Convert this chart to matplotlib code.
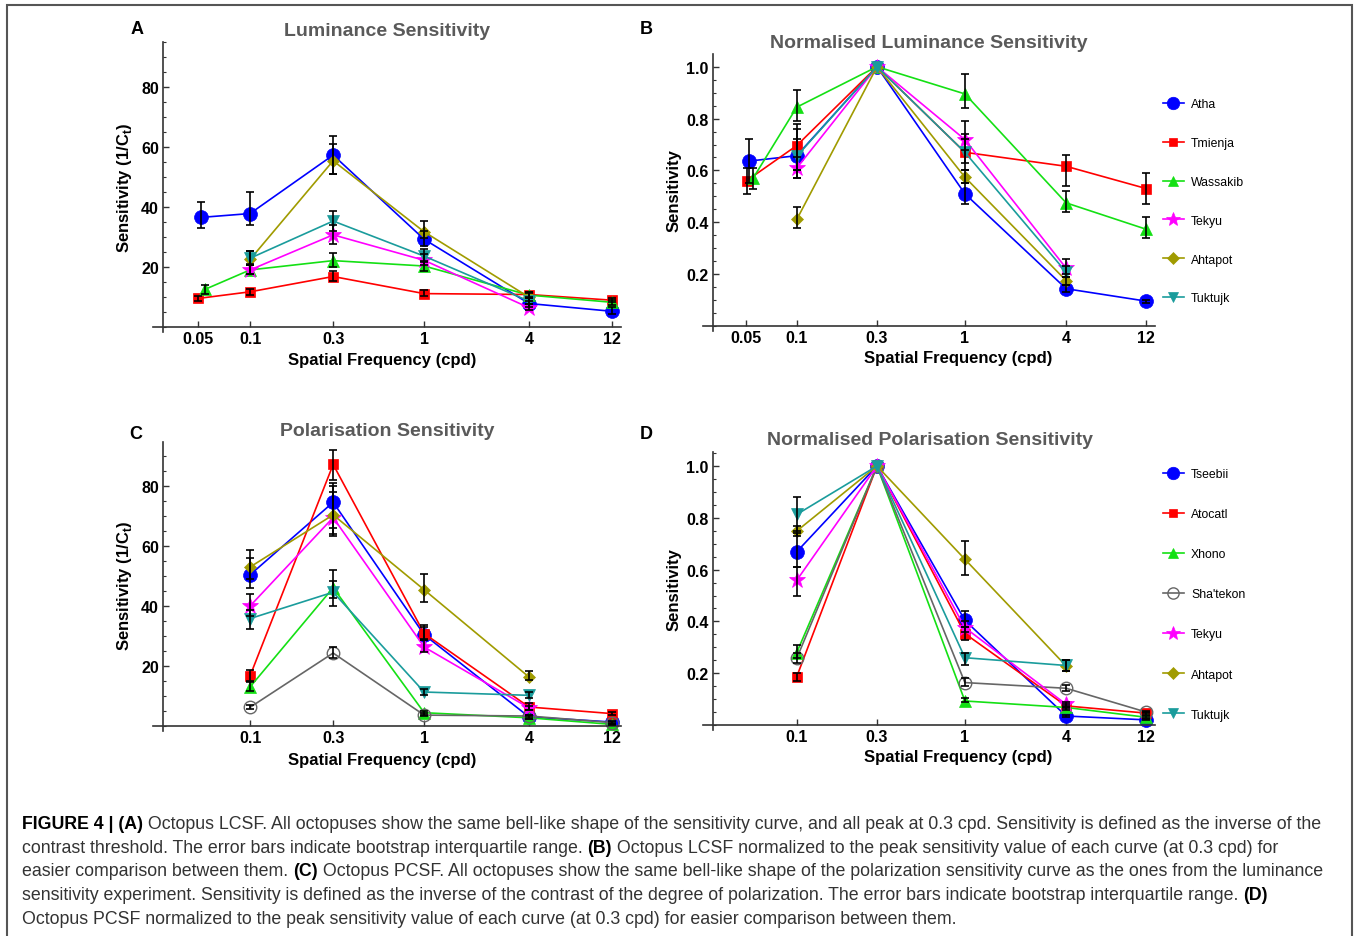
import matplotlib
matplotlib.use("Agg")
import matplotlib.pyplot as plt
from matplotlib.lines import Line2D
from matplotlib.patches import Rectangle
from matplotlib.ticker import MultipleLocator, NullLocator

plt.rcParams["font.family"] = ["Liberation Sans", "DejaVu Sans"]
plt.rcParams["mathtext.fontset"] = "custom"
plt.rcParams["mathtext.rm"] = "Liberation Sans"
plt.rcParams["mathtext.bf"] = "Liberation Sans:bold"

# ---- panel A: luminance sensitivity (1/Ct) ----
a_names = ["Atha", "Tmienja", "Wassakib", "Tekyu", "Ahtapot", "Tuktujk"]
a_freq = [[0.052, 0.1, 0.3, 1, 4, 12],
          [0.0505, 0.1, 0.3, 1, 4, 12],
          [0.055, 0.1, 0.3, 1, 4, 12],
          [0.1, 0.3, 1, 4],
          [0.1, 0.3, 1, 4],
          [0.1, 0.3, 1, 4]]
a_val = [[36.5, 37.8, 57.3, 29.2, 7.8, 5.2],
         [9.5, 11.7, 16.8, 11.1, 10.8, 8.9],
         [12.5, 19.0, 22.1, 20.3, 10.6, 8.2],
         [19.0, 30.7, 22.2, 6.4],
         [22.5, 55.4, 31.7, 9.9],
         [22.9, 35.3, 23.6, 8.6]]
a_lo = [[32.9, 34.0, 51.0, 27.0, 6.5, 4.3],
        [8.8, 10.8, 15.3, 10.2, 9.8, 8.2],
        [11.0, 17.5, 20.0, 18.8, 9.6, 7.3],
        [17.8, 27.5, 20.5, 5.5],
        [21.0, 51.0, 29.5, 8.8],
        [20.5, 32.0, 21.5, 7.5]]
a_hi = [[41.5, 45.0, 63.8, 32.0, 9.5, 6.5],
        [10.3, 12.8, 18.5, 12.3, 11.8, 9.8],
        [14.0, 20.5, 24.5, 22.0, 11.6, 9.0],
        [20.5, 34.0, 24.2, 7.5],
        [25.3, 61.0, 35.3, 11.2],
        [25.3, 38.8, 26.0, 10.0]]

# ---- panel B: normalised luminance sensitivity ----
b_val = [[0.636, 0.657, 1.0, 0.51, 0.144, 0.096],
         [0.561, 0.696, 1.0, 0.67, 0.616, 0.53],
         [0.57, 0.844, 1.0, 0.895, 0.475, 0.373],
         [0.609, 1.0, 0.719, 0.223],
         [0.411, 1.0, 0.574, 0.175],
         [0.655, 1.0, 0.67, 0.208]]
b_lo = [[0.55, 0.57, 1.0, 0.47, 0.13, 0.09],
        [0.51, 0.60, 1.0, 0.60, 0.54, 0.47],
        [0.53, 0.79, 1.0, 0.84, 0.44, 0.34],
        [0.57, 1.0, 0.68, 0.20],
        [0.38, 1.0, 0.55, 0.16],
        [0.60, 1.0, 0.63, 0.19]]
b_hi = [[0.72, 0.76, 1.0, 0.55, 0.16, 0.10],
        [0.61, 0.78, 1.0, 0.74, 0.66, 0.59],
        [0.61, 0.91, 1.0, 0.97, 0.52, 0.42],
        [0.65, 1.0, 0.79, 0.26],
        [0.46, 1.0, 0.60, 0.19],
        [0.72, 1.0, 0.72, 0.23]]

# ---- panel C: polarisation sensitivity (1/Ct) ----
c_names = ["Tseebii", "Atocatl", "Xhono", "Sha'tekon", "Tekyu", "Ahtapot", "Tuktujk"]
c_freq = [[0.1, 0.3, 1, 4, 12],
          [0.1, 0.3, 1, 4, 12],
          [0.1, 0.3, 1, 4, 12],
          [0.1, 0.3, 1, 4, 12],
          [0.1, 0.3, 1, 4],
          [0.1, 0.3, 1, 4],
          [0.1, 0.3, 1, 4]]
c_val = [[50.4, 74.6, 30.4, 3.0, 1.3],
         [16.7, 87.2, 30.8, 6.3, 4.1],
         [13.0, 46.1, 4.4, 2.7, 0.5],
         [6.2, 24.3, 3.6, 3.3, 1.1],
         [40.0, 69.5, 26.3, 6.0],
         [53.0, 70.4, 45.4, 16.3],
         [35.8, 44.6, 11.3, 10.2]]
c_lo = [[46.0, 64.0, 28.5, 2.3, 0.8],
        [15.0, 82.0, 29.0, 5.3, 3.5],
        [11.5, 42.5, 3.8, 2.2, 0.3],
        [5.5, 22.5, 3.2, 2.8, 0.8],
        [36.5, 63.5, 24.8, 5.2],
        [49.0, 66.0, 41.2, 15.2],
        [32.3, 40.0, 10.2, 9.2]]
c_hi = [[56.0, 80.0, 33.0, 3.8, 1.8],
        [18.5, 92.0, 33.5, 7.5, 4.7],
        [14.5, 52.0, 5.0, 3.2, 0.8],
        [7.0, 26.3, 4.2, 3.8, 1.4],
        [44.0, 78.0, 28.5, 6.8],
        [58.8, 81.0, 50.8, 18.2],
        [38.5, 48.5, 12.4, 11.4]]

# ---- panel D: normalised polarisation sensitivity ----
d_val = [[0.669, 1.0, 0.404, 0.035, 0.02],
         [0.187, 1.0, 0.353, 0.074, 0.046],
         [0.28, 1.0, 0.093, 0.068, 0.03],
         [0.258, 1.0, 0.164, 0.142, 0.05],
         [0.559, 1.0, 0.376, 0.08],
         [0.749, 1.0, 0.64, 0.228],
         [0.813, 1.0, 0.26, 0.23]]
d_lo = [[0.61, 1.0, 0.38, 0.03, 0.018],
        [0.17, 1.0, 0.33, 0.065, 0.04],
        [0.26, 1.0, 0.088, 0.06, 0.026],
        [0.24, 1.0, 0.15, 0.13, 0.045],
        [0.50, 1.0, 0.36, 0.07],
        [0.73, 1.0, 0.58, 0.21],
        [0.75, 1.0, 0.23, 0.21]]
d_hi = [[0.74, 1.0, 0.44, 0.04, 0.022],
        [0.20, 1.0, 0.38, 0.083, 0.052],
        [0.31, 1.0, 0.105, 0.075, 0.034],
        [0.28, 1.0, 0.18, 0.155, 0.055],
        [0.61, 1.0, 0.40, 0.09],
        [0.77, 1.0, 0.71, 0.25],
        [0.88, 1.0, 0.28, 0.25]]

lum_ticks = [0.05, 0.1, 0.3, 1, 4, 12]
pol_ticks = [0.1, 0.3, 1, 4, 12]

# marker, colour, size
STYLE = {
    "Atha": ("o", "#0000ff", 10),
    "Tseebii": ("o", "#0000ff", 10),
    "Tmienja": ("s", "#ff0000", 6.5),
    "Atocatl": ("s", "#ff0000", 6.5),
    "Wassakib": ("^", "#14e014", 8),
    "Xhono": ("^", "#14e014", 8),
    "Sha'tekon": ("o", "#666666", 9),
    "Tekyu": ("*", "#ff00ff", 12),
    "Ahtapot": ("D", "#a09b00", 6.5),
    "Tuktujk": ("v", "#1a9c9c", 8),
}

W, H = 1357, 937
fig = plt.figure(figsize=(W / 100, H / 100), dpi=100)


def px_axes(x0, y0, x1, y1):
    return fig.add_axes([x0 / W, 1 - y1 / H, (x1 - x0) / W, (y1 - y0) / H])


def line_kw(name):
    m, c, ms = STYLE[name]
    open_marker = name == "Sha'tekon"
    return dict(color=c, lw=1.2, marker=m, ms=ms,
                mfc="none" if open_marker else c, mec=c,
                mew=1.0 if open_marker else 0.5)


def draw_panel(ax, names, freqs, vals, lows, highs, ticks, ylim, yticks, ylabels, yminor):
    for n, f, v, lo, hi in zip(names, freqs, vals, lows, highs):
        ax.plot(f, v, zorder=2, **line_kw(n))
        keep = [i for i in range(len(v)) if hi[i] > lo[i]]
        ax.errorbar([f[i] for i in keep], [v[i] for i in keep],
                    yerr=[[v[i] - lo[i] for i in keep], [hi[i] - v[i] for i in keep]],
                    fmt="none", ecolor="black", elinewidth=1.2, capsize=3,
                    capthick=1.2, zorder=3)
    ax.set_xscale("log")
    ax.set_xlim(0.0277, 13.5)
    ax.set_ylim(*ylim)
    ax.spines["top"].set_visible(False)
    ax.spines["right"].set_visible(False)
    ax.spines["left"].set_position(("data", 0.0317))
    ax.spines["bottom"].set_position(("data", 0))
    for s in ("left", "bottom"):
        ax.spines[s].set_color("#333333")
        ax.spines[s].set_linewidth(1.2)
    ax.patch.set_visible(False)
    ax.xaxis.set_minor_locator(NullLocator())
    ax.set_xticks(ticks, [("%g" % t) for t in ticks], fontweight="bold")
    ax.set_yticks(yticks, ylabels, fontweight="bold")
    ax.yaxis.set_minor_locator(MultipleLocator(yminor))
    ax.tick_params(which="major", direction="in", length=4, width=1,
                   labelsize=11.5, pad=3, color="#333333")
    ax.tick_params(which="minor", direction="in", length=2.5, width=0.8, color="#333333")


axA = px_axes(153, 43, 621, 333)
axB = px_axes(703, 55, 1155, 332)
axC = px_axes(153, 443, 621, 732)
axD = px_axes(703, 453, 1155, 731)

draw_panel(axA, a_names, a_freq, a_val, a_lo, a_hi, lum_ticks, (-1.7, 95),
           [20, 40, 60, 80], ["20", "40", "60", "80"], 5)
draw_panel(axB, a_names, a_freq, b_val, b_lo, b_hi, lum_ticks, (-0.019, 1.049),
           [0.2, 0.4, 0.6, 0.8, 1.0], ["0.2", "0.4", "0.6", "0.8", "1.0"], 0.05)
draw_panel(axC, c_names, c_freq, c_val, c_lo, c_hi, pol_ticks, (-1.7, 94.7),
           [20, 40, 60, 80], ["20", "40", "60", "80"], 5)
draw_panel(axD, c_names, c_freq, d_val, d_lo, d_hi, pol_ticks, (-0.019, 1.054),
           [0.2, 0.4, 0.6, 0.8, 1.0], ["0.2", "0.4", "0.6", "0.8", "1.0"], 0.05)


def ftext(x, y, s, **kw):
    return fig.text(x / W, 1 - y / H, s, **kw)


# titles, panel letters, axis labels
title_kw = dict(ha="center", va="center", fontsize=14, fontweight="bold", color="#5a5a5a")
ftext(387, 32, "Luminance Sensitivity", **title_kw)
ftext(929, 43, "Normalised Luminance Sensitivity", **title_kw)
ftext(387, 432, "Polarisation Sensitivity", **title_kw)
ftext(930, 441, "Normalised Polarisation Sensitivity", **title_kw)

letter_kw = dict(ha="center", va="center", fontsize=13, fontweight="bold", color="black")
ftext(137, 30, "A", **letter_kw)
ftext(646, 30, "B", **letter_kw)
ftext(136, 435, "C", **letter_kw)
ftext(646, 435, "D", **letter_kw)

lab_kw = dict(ha="center", va="center", fontsize=12, fontweight="bold")
ftext(382, 361, "Spatial Frequency (cpd)", **lab_kw)
ftext(958, 359, "Spatial Frequency (cpd)", **lab_kw)
ftext(382, 761, "Spatial Frequency (cpd)", **lab_kw)
ftext(958, 758, "Spatial Frequency (cpd)", **lab_kw)
ftext(124, 188, r"Sensitivity (1/C$_{\mathbf{t}}$)", rotation=90, **lab_kw)
ftext(124, 586, r"Sensitivity (1/C$_{\mathbf{t}}$)", rotation=90, **lab_kw)
ftext(674, 191, "Sensitivity", rotation=90, **lab_kw)
ftext(674, 590, "Sensitivity", rotation=90, **lab_kw)

# legends
for names, top, spacing in ((a_names, 99, 2.2), (c_names, 469, 2.3)):
    handles = [Line2D([], [], **line_kw(n)) for n in names]
    fig.legend(handles, names, loc="upper left",
               bbox_to_anchor=(1163 / W, 1 - top / H), frameon=False,
               fontsize=8.8, labelspacing=spacing, handlelength=1.7,
               handletextpad=0.6, borderaxespad=0, borderpad=0, markerscale=0.9)

# frame around the figure
fig.patches.append(Rectangle((7 / W, -0.01), (1352 - 7) / W, 1 - 6 / H + 0.01,
                             transform=fig.transFigure, fill=False,
                             ec="#555555", lw=1.5))

# caption with bold panel markers
renderer = fig.canvas.get_renderer()


def text_width(s, props):
    t1 = fig.text(0, 0, "|" + s + "|", **props)
    t2 = fig.text(0, 0, "||", **props)
    w = t1.get_window_extent(renderer).width - t2.get_window_extent(renderer).width
    t1.remove()
    t2.remove()
    return w


def rich_line(x, y, segments, size=12.8):
    for s, bold in segments:
        props = dict(fontsize=size, fontweight="bold" if bold else "normal",
                     color="black" if bold else "#333333")
        ftext(x, y, s, ha="left", va="baseline", **props)
        x += text_width(s, props)


caption = [
    [("FIGURE 4 | (A)", True),
     (" Octopus LCSF. All octopuses show the same bell-like shape of the sensitivity curve, "
      "and all peak at 0.3 cpd. Sensitivity is defined as the inverse of the", False)],
    [("contrast threshold. The error bars indicate bootstrap interquartile range. ", False),
     ("(B)", True),
     (" Octopus LCSF normalized to the peak sensitivity value of each curve (at 0.3 cpd) for", False)],
    [("easier comparison between them. ", False), ("(C)", True),
     (" Octopus PCSF. All octopuses show the same bell-like shape of the polarization "
      "sensitivity curve as the ones from the luminance", False)],
    [("sensitivity experiment. Sensitivity is defined as the inverse of the contrast of the "
      "degree of polarization. The error bars indicate bootstrap interquartile range. ", False),
     ("(D)", True)],
    [("Octopus PCSF normalized to the peak sensitivity value of each curve (at 0.3 cpd) "
      "for easier comparison between them.", False)],
]
for i, segs in enumerate(caption):
    rich_line(22, 829 + i * 23.7, segs)

fig.savefig("out.png", dpi=100)
